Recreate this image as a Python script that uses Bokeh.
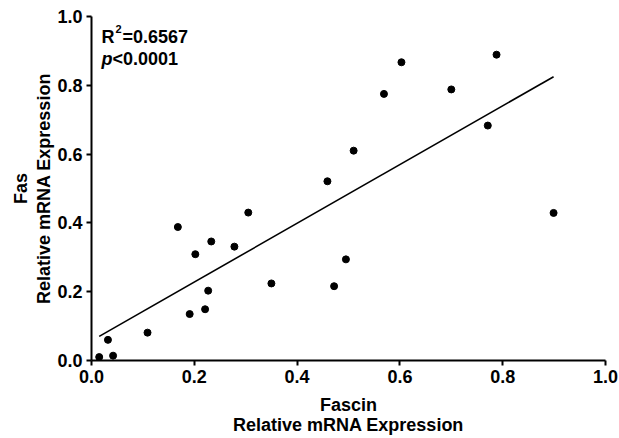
from bokeh.plotting import figure
from bokeh.models import Range1d, Label, FixedTicker, ColumnDataSource, LinearAxis
from bokeh.embed import file_html
from bokeh.resources import INLINE

# Data
fascin = [0.015, 0.032, 0.042, 0.109, 0.168, 0.191, 0.202, 0.221, 0.227, 0.233,
          0.278, 0.305, 0.350, 0.459, 0.472, 0.495, 0.510, 0.569, 0.603, 0.700,
          0.771, 0.788, 0.899]
fas = [0.010, 0.060, 0.014, 0.081, 0.388, 0.135, 0.309, 0.149, 0.203, 0.346,
       0.331, 0.430, 0.224, 0.521, 0.216, 0.294, 0.610, 0.775, 0.867, 0.788,
       0.683, 0.889, 0.429]
fit_x = [0.015, 0.899]
fit_y = [0.070, 0.825]
ticks = [0.0, 0.2, 0.4, 0.6, 0.8, 1.0]
tick_labels = {0.0: "0.0", 0.2: "0.2", 0.4: "0.4", 0.6: "0.6", 0.8: "0.8", 1.0: "1.0"}
x_title = ["Fascin", "Relative mRNA Expression"]
y_title = ["Fas", "Relative mRNA Expression"]

FONT = "Liberation Sans"

p = figure(width=619, height=438, output_backend="svg", toolbar_location=None,
           x_range=Range1d(0, 1), y_range=Range1d(0, 1),
           min_border_left=91, min_border_right=14, min_border_top=16, min_border_bottom=78)
p.outline_line_color = None
p.xgrid.grid_line_color = None
p.ygrid.grid_line_color = None
p.background_fill_color = "white"
p.border_fill_color = "white"

src = ColumnDataSource(dict(x=fascin, y=fas))
p.line(fit_x, fit_y, line_color="black", line_width=1.6)
p.scatter("x", "y", source=src, size=7, color="black")

for ax in (p.xaxis[0], p.yaxis[0]):
    ax.ticker = FixedTicker(ticks=ticks)
    ax.major_label_overrides = tick_labels
    ax.minor_tick_line_color = None
    ax.major_tick_out = 5
    ax.major_tick_in = 0
    ax.major_tick_line_width = 2
    ax.axis_line_width = 2
    ax.major_label_text_font = FONT
    ax.major_label_text_font_style = "bold"
    ax.major_label_text_font_size = "18px"
    ax.major_label_text_color = "black"
    ax.axis_label_text_font = FONT
    ax.axis_label_text_font_style = "bold"
    ax.axis_label_text_font_size = "18px"
    ax.axis_label_text_color = "black"

p.xaxis[0].major_label_standoff = 4
p.yaxis[0].major_label_standoff = 4
p.xaxis[0].axis_label = x_title[0]
p.xaxis[0].axis_label_standoff = 9
p.yaxis[0].axis_label = y_title[1]
p.yaxis[0].axis_label_standoff = 0


def title_axis(label, standoff):
    a = LinearAxis(ticker=FixedTicker(ticks=[]), axis_label=label,
                   axis_line_color=None, major_tick_line_color=None,
                   minor_tick_line_color=None, major_tick_out=0, major_tick_in=0,
                   major_label_text_font_size="0px", major_label_standoff=0,
                   axis_label_standoff=standoff, axis_label_text_font=FONT,
                   axis_label_text_font_style="bold", axis_label_text_font_size="18px",
                   axis_label_text_color="black")
    return a


p.add_layout(title_axis(x_title[1], -3), "below")
p.add_layout(title_axis(y_title[0], 1), "left")

common = dict(text_font=FONT, text_color="black", text_baseline="alphabetic")
p.add_layout(Label(x=0.0, y=1.0, x_offset=10, y_offset=-20, text="R", text_font_style="bold",
                   text_font_size="18px", **common))
p.add_layout(Label(x=0.0, y=1.0, x_offset=24, y_offset=-12, text="2",
                   text_font_style="bold", text_font_size="11px", **common))
p.add_layout(Label(x=0.0, y=1.0, x_offset=31, y_offset=-20, text="=0.6567",
                   text_font_style="bold", text_font_size="18px", **common))
p.add_layout(Label(x=0.0, y=1.0, x_offset=10, y_offset=-42, text="p",
                   text_font_style="bold italic", text_font_size="18px", **common))
p.add_layout(Label(x=0.0, y=1.0, x_offset=21, y_offset=-42, text="<0.0001",
                   text_font_style="bold", text_font_size="18px", **common))

open("out.html", "w").write(file_html(p, INLINE))
